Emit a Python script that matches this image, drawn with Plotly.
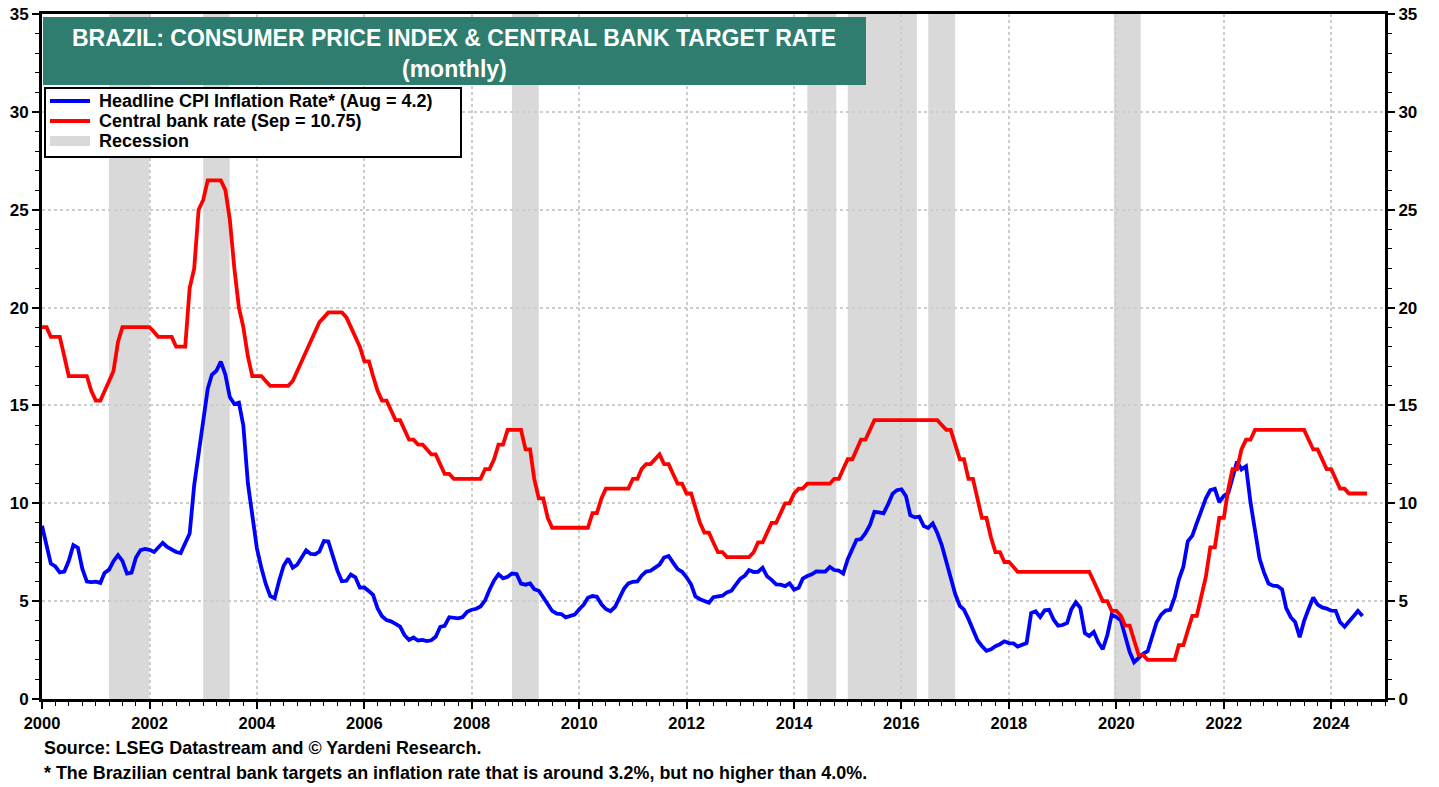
import pandas as pd
import plotly.graph_objects as go

# ---------------- DATA ----------------
cpi_start = "2000-01-01"
cpi_values = [
    8.85, 7.86, 6.92, 6.77, 6.47, 6.51, 7.06, 7.86, 7.73, 6.66, 6.00, 5.97,   # 2000
    6.00, 5.93, 6.44, 6.61, 7.04, 7.35, 7.06, 6.41, 6.46, 7.23, 7.61, 7.67,   # 2001
    7.62, 7.51, 7.75, 7.98, 7.77, 7.66, 7.51, 7.46, 7.93, 8.45, 10.93, 12.53, # 2002
    14.47, 15.85, 16.57, 16.77, 17.24, 16.57, 15.43, 15.07, 15.14, 13.98, 11.02, 9.30,  # 2003
    7.71, 6.69, 5.89, 5.26, 5.15, 6.06, 6.81, 7.18, 6.71, 6.86, 7.24, 7.60,   # 2004
    7.41, 7.39, 7.54, 8.07, 8.05, 7.27, 6.57, 6.02, 6.04, 6.36, 6.22, 5.69,   # 2005
    5.70, 5.51, 5.32, 4.63, 4.23, 4.03, 3.97, 3.84, 3.70, 3.26, 3.02, 3.14,   # 2006
    2.99, 3.02, 2.96, 3.00, 3.18, 3.69, 3.74, 4.18, 4.15, 4.12, 4.19, 4.46,   # 2007
    4.56, 4.61, 4.73, 5.04, 5.58, 6.06, 6.37, 6.17, 6.25, 6.41, 6.39, 5.90,   # 2008
    5.84, 5.90, 5.61, 5.53, 5.20, 4.80, 4.50, 4.36, 4.34, 4.17, 4.22, 4.31,   # 2009
    4.59, 4.83, 5.17, 5.26, 5.22, 4.84, 4.60, 4.49, 4.70, 5.20, 5.63, 5.91,   # 2010
    5.99, 6.01, 6.30, 6.51, 6.55, 6.71, 6.87, 7.23, 7.31, 6.97, 6.64, 6.50,   # 2011
    6.22, 5.85, 5.24, 5.10, 4.99, 4.92, 5.20, 5.24, 5.28, 5.45, 5.53, 5.84,   # 2012
    6.15, 6.31, 6.59, 6.49, 6.50, 6.70, 6.27, 6.09, 5.86, 5.84, 5.77, 5.91,   # 2013
    5.59, 5.68, 6.15, 6.28, 6.37, 6.52, 6.50, 6.51, 6.75, 6.59, 6.56, 6.41,   # 2014
    7.14, 7.70, 8.13, 8.17, 8.47, 8.89, 9.56, 9.53, 9.49, 9.93, 10.48, 10.67, # 2015
    10.71, 10.36, 9.39, 9.28, 9.32, 8.84, 8.74, 8.97, 8.48, 7.87, 6.99, 6.29, # 2016
    5.35, 4.76, 4.57, 4.08, 3.60, 3.00, 2.71, 2.46, 2.54, 2.70, 2.80, 2.95,   # 2017
    2.86, 2.84, 2.68, 2.76, 2.86, 4.39, 4.48, 4.19, 4.53, 4.56, 4.05, 3.75,   # 2018
    3.78, 3.89, 4.58, 4.94, 4.66, 3.37, 3.22, 3.43, 2.89, 2.54, 3.27, 4.31,   # 2019
    4.19, 4.01, 3.30, 2.40, 1.88, 2.13, 2.31, 2.44, 3.14, 3.92, 4.31, 4.52,   # 2020
    4.56, 5.20, 6.10, 6.76, 8.06, 8.35, 8.99, 9.68, 10.25, 10.67, 10.74, 10.06,  # 2021
    10.38, 10.54, 11.30, 12.13, 11.73, 11.89, 10.07, 8.73, 7.17, 6.47, 5.90, 5.79,  # 2022
    5.77, 5.60, 4.65, 4.18, 3.94, 3.16, 3.99, 4.61, 5.19, 4.82, 4.68, 4.62,   # 2023
    4.51, 4.50, 3.93, 3.69, 3.93, 4.23, 4.50, 4.24,                           # 2024 (to Aug)
]

rate_start = "2000-01-01"
rate_values = [
    19.00, 19.00, 18.50, 18.50, 18.50, 17.50, 16.50, 16.50, 16.50, 16.50, 16.50, 15.75,  # 2000
    15.25, 15.25, 15.75, 16.25, 16.75, 18.25, 19.00, 19.00, 19.00, 19.00, 19.00, 19.00,  # 2001
    19.00, 18.75, 18.50, 18.50, 18.50, 18.50, 18.00, 18.00, 18.00, 21.00, 22.00, 25.00,  # 2002
    25.50, 26.50, 26.50, 26.50, 26.50, 26.00, 24.50, 22.00, 20.00, 19.00, 17.50, 16.50,  # 2003
    16.50, 16.50, 16.25, 16.00, 16.00, 16.00, 16.00, 16.00, 16.25, 16.75, 17.25, 17.75,  # 2004
    18.25, 18.75, 19.25, 19.50, 19.75, 19.75, 19.75, 19.75, 19.50, 19.00, 18.50, 18.00,  # 2005
    17.25, 17.25, 16.50, 15.75, 15.25, 15.25, 14.75, 14.25, 14.25, 13.75, 13.25, 13.25,  # 2006
    13.00, 13.00, 12.75, 12.50, 12.50, 12.00, 11.50, 11.50, 11.25, 11.25, 11.25, 11.25,  # 2007
    11.25, 11.25, 11.25, 11.75, 11.75, 12.25, 13.00, 13.00, 13.75, 13.75, 13.75, 13.75,  # 2008
    12.75, 12.75, 11.25, 10.25, 10.25, 9.25, 8.75, 8.75, 8.75, 8.75, 8.75, 8.75,         # 2009
    8.75, 8.75, 8.75, 9.50, 9.50, 10.25, 10.75, 10.75, 10.75, 10.75, 10.75, 10.75,       # 2010
    11.25, 11.25, 11.75, 12.00, 12.00, 12.25, 12.50, 12.00, 12.00, 11.50, 11.00, 11.00,  # 2011
    10.50, 10.50, 9.75, 9.00, 8.50, 8.50, 8.00, 7.50, 7.50, 7.25, 7.25, 7.25,            # 2012
    7.25, 7.25, 7.25, 7.50, 8.00, 8.00, 8.50, 9.00, 9.00, 9.50, 10.00, 10.00,            # 2013
    10.50, 10.75, 10.75, 11.00, 11.00, 11.00, 11.00, 11.00, 11.00, 11.25, 11.25, 11.75,  # 2014
    12.25, 12.25, 12.75, 13.25, 13.25, 13.75, 14.25, 14.25, 14.25, 14.25, 14.25, 14.25,  # 2015
    14.25, 14.25, 14.25, 14.25, 14.25, 14.25, 14.25, 14.25, 14.25, 14.00, 13.75, 13.75,  # 2016
    13.00, 12.25, 12.25, 11.25, 11.25, 10.25, 9.25, 9.25, 8.25, 7.50, 7.50, 7.00,        # 2017
    7.00, 6.75, 6.50, 6.50, 6.50, 6.50, 6.50, 6.50, 6.50, 6.50, 6.50, 6.50,              # 2018
    6.50, 6.50, 6.50, 6.50, 6.50, 6.50, 6.50, 6.00, 5.50, 5.00, 5.00, 4.50,              # 2019
    4.50, 4.25, 3.75, 3.75, 3.00, 2.25, 2.25, 2.00, 2.00, 2.00, 2.00, 2.00,              # 2020
    2.00, 2.00, 2.75, 2.75, 3.50, 4.25, 4.25, 5.25, 6.25, 7.75, 7.75, 9.25,              # 2021
    9.25, 10.75, 11.75, 11.75, 12.75, 13.25, 13.25, 13.75, 13.75, 13.75, 13.75, 13.75,   # 2022
    13.75, 13.75, 13.75, 13.75, 13.75, 13.75, 13.75, 13.25, 12.75, 12.75, 12.25, 11.75,  # 2023
    11.75, 11.25, 10.75, 10.75, 10.50, 10.50, 10.50, 10.50, 10.50,                       # 2024 (to Sep)
]

recession_starts = ["2001-04-01", "2003-01-01", "2008-10-01", "2014-04-01", "2015-01-01", "2016-07-01", "2019-12-15"]
recession_ends   = ["2001-12-31", "2003-06-30", "2009-04-01", "2014-10-15", "2016-04-15", "2016-12-31", "2020-06-15"]

y_ticks = [0, 5, 10, 15, 20, 25, 30, 35]

cpi_label = "Headline CPI Inflation Rate* (Aug = 4.2)"
rate_label = "Central bank rate (Sep = 10.75)"
recession_label = "Recession"
title_line1 = "BRAZIL: CONSUMER PRICE INDEX & CENTRAL BANK TARGET RATE"
title_line2 = "(monthly)"
source_text = "Source: LSEG Datastream and © Yardeni Research."
note_text = "* The Brazilian central bank targets an inflation rate that is around 3.2%, but no higher than 4.0%."

# ---------------- LAYOUT HELPERS ----------------
W, H = 1439, 787
PL, PR, PT, PB = 42, 1385, 14, 699   # plot area in pixels


def px(sx):
    return (sx - PL) / (PR - PL)


def py(sy):
    return (PB - sy) / (PB - PT)


BLUE, RED, GRAY, TEAL = "#0000FF", "#FF0000", "#D9D9D9", "#2E7D6F"
ARIAL = "Arial, Liberation Sans, sans-serif"
GRID = "#CDCDCD"

# ---------------- FIGURE ----------------
cpi_dates = pd.date_range(cpi_start, periods=len(cpi_values), freq="MS")
rate_dates = pd.date_range(rate_start, periods=len(rate_values), freq="MS")

fig = go.Figure()

for s, e in zip(recession_starts, recession_ends):
    fig.add_vrect(x0=s, x1=e, fillcolor=GRAY, line_width=0, layer="below", opacity=1)

fig.add_trace(go.Scatter(x=cpi_dates, y=cpi_values, mode="lines", name=cpi_label,
                         line=dict(color=BLUE, width=3.8)))
fig.add_trace(go.Scatter(x=rate_dates, y=rate_values, mode="lines", name=rate_label,
                         line=dict(color=RED, width=3.8)))
# invisible trace to activate right axis
fig.add_trace(go.Scatter(x=[cpi_dates[0]], y=[0], yaxis="y2", mode="markers",
                         marker=dict(opacity=0), showlegend=False, hoverinfo="skip"))

ytick_font = dict(family=ARIAL, size=17, color="black", weight="bold")
xtick_font = dict(family=ARIAL, size=16.5, color="black", weight="bold")
note_font = dict(family=ARIAL, size=17.9, color="black", weight="bold")

fig.update_layout(
    width=W, height=H,
    margin=dict(l=PL, r=W - PR, t=PT, b=H - PB),
    paper_bgcolor="white", plot_bgcolor="white",
    showlegend=False,
    xaxis=dict(
        type="date", range=["2000-01-01", "2025-01-01"], automargin=False,
        tick0="2000-01-01", dtick="M24", tickformat="%Y",
        showgrid=True, gridcolor=GRID, griddash="dot", gridwidth=1.5,
        showline=True, linecolor="black", linewidth=3, mirror=True,
        ticks="outside", ticklen=7, tickwidth=1.5, tickcolor="black",
        minor=dict(dtick="M3", ticks="outside", ticklen=4, tickcolor="black", tickwidth=1, showgrid=False),
        tickfont=xtick_font, zeroline=False,
    ),
    yaxis=dict(
        range=[0, 35], tickvals=y_ticks, automargin=False,
        showgrid=True, gridcolor=GRID, griddash="dot", gridwidth=1.5,
        showline=True, linecolor="black", linewidth=3,
        ticks="outside", ticklen=7, tickwidth=1.5, tickcolor="black",
        minor=dict(dtick=1, ticks="outside", ticklen=4, tickcolor="black", tickwidth=1, showgrid=False),
        tickfont=ytick_font, zeroline=False,
    ),
    yaxis2=dict(
        range=[0, 35], tickvals=y_ticks, overlaying="y", side="right", automargin=False,
        showgrid=False, showline=True, linecolor="black", linewidth=3,
        ticks="outside", ticklen=7, tickwidth=1.5, tickcolor="black",
        minor=dict(dtick=1, ticks="outside", ticklen=4, tickcolor="black", tickwidth=1),
        tickfont=ytick_font, zeroline=False,
    ),
)

# title box
fig.add_shape(type="rect", xref="paper", yref="paper", x0=px(43), x1=px(866), y0=py(85), y1=py(17),
              fillcolor=TEAL, line=dict(width=0), layer="above")
fig.add_annotation(xref="paper", yref="paper", x=px(454), y=py(38), xanchor="center", yanchor="middle",
                   showarrow=False, text="<b>" + title_line1 + "</b>",
                   font=dict(family=ARIAL, size=23, color="white"))
fig.add_annotation(xref="paper", yref="paper", x=px(454), y=py(69), xanchor="center", yanchor="middle",
                   showarrow=False, text="<b>" + title_line2 + "</b>",
                   font=dict(family=ARIAL, size=23, color="white"))

# legend box (drawn)
fig.add_shape(type="rect", xref="paper", yref="paper", x0=px(45), x1=px(461), y0=py(157), y1=py(88),
              fillcolor="white", line=dict(color="black", width=2), layer="above")
legend_items = [(cpi_label, BLUE, 101), (rate_label, RED, 121), (recession_label, GRAY, 141)]
for label, color, sy in legend_items:
    if color == GRAY:
        fig.add_shape(type="rect", xref="paper", yref="paper", x0=px(50), x1=px(90),
                      y0=py(sy + 5), y1=py(sy - 5), fillcolor=GRAY, line=dict(width=0), layer="above")
    else:
        fig.add_shape(type="line", xref="paper", yref="paper", x0=px(50), x1=px(90),
                      y0=py(sy), y1=py(sy), line=dict(color=color, width=3.8), layer="above")
    fig.add_annotation(xref="paper", yref="paper", x=px(97), y=py(sy), xanchor="left", yanchor="middle",
                       showarrow=False, text="<b>" + label + "</b>",
                       font=dict(family=ARIAL, size=18, color="black"))

# footnotes
fig.add_annotation(xref="paper", yref="paper", x=px(42), y=py(748), xanchor="left", yanchor="middle",
                   showarrow=False, text="<b>" + source_text + "</b>", font=note_font)
fig.add_annotation(xref="paper", yref="paper", x=px(42), y=py(773), xanchor="left", yanchor="middle",
                   showarrow=False, text="<b>" + note_text + "</b>", font=note_font)

fig.write_html("out.html", config={"displayModeBar": False},
               post_script="document.body.style.margin='0';")
